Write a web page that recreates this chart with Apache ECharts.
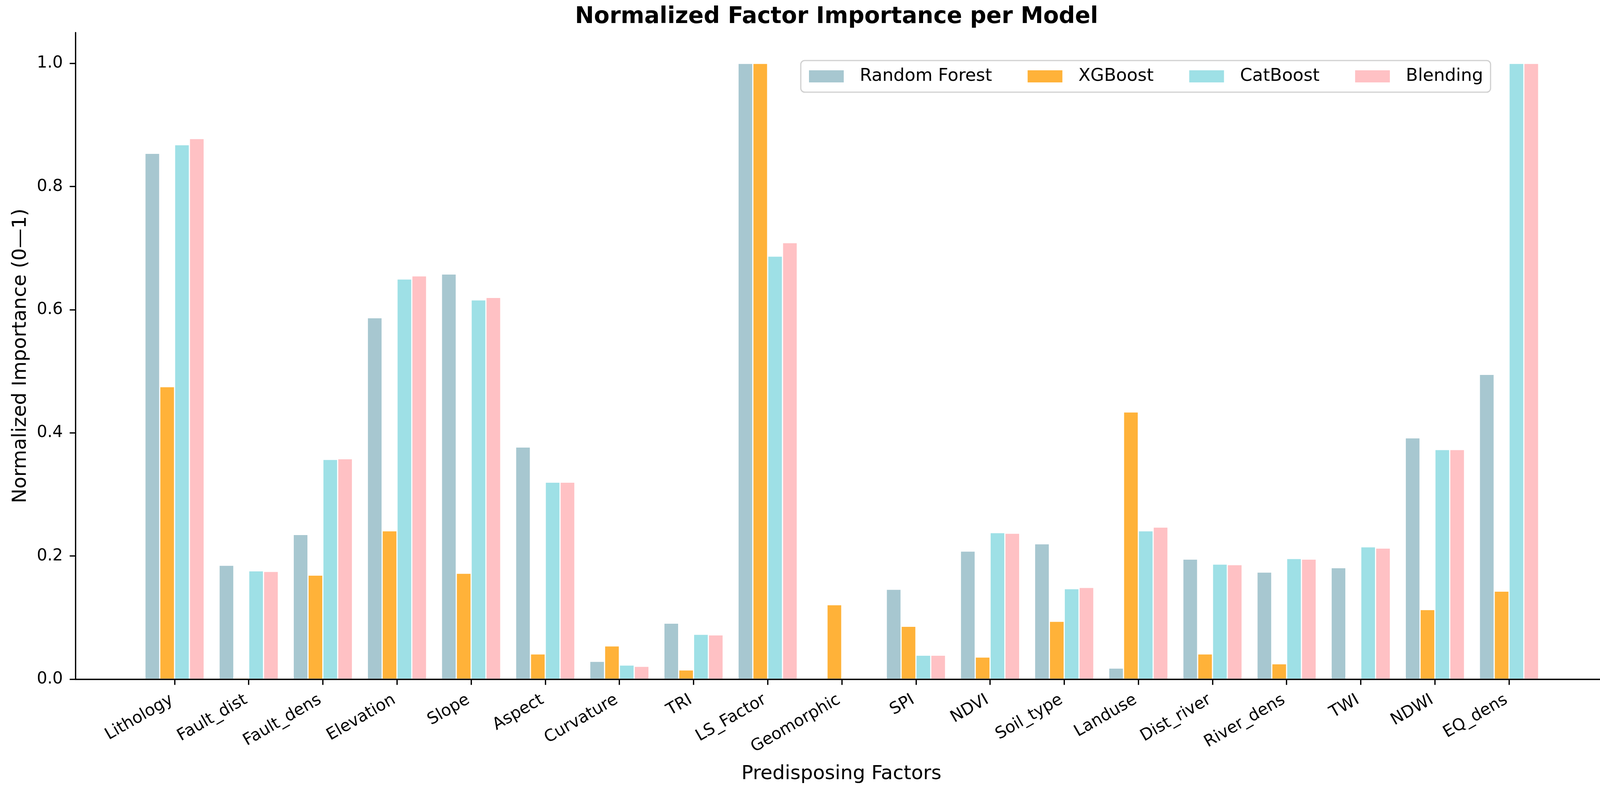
<!DOCTYPE html>
<html>
<head>
<meta charset="utf-8">
<script src="https://cdn.jsdelivr.net/npm/echarts@6/dist/echarts.min.js"></script>
<style>html,body{margin:0;padding:0;background:#fff;}#chart{width:4150px;height:2033px;}</style>
</head>
<body>
<div id="chart"></div>
<script>
const categories = ['Lithology','Fault_dist','Fault_dens','Elevation','Slope','Aspect','Curvature','TRI','LS_Factor','Geomorphic','SPI','NDVI','Soil_type','Landuse','Dist_river','River_dens','TWI','NDWI','EQ_dens'];
const seriesNames = ['Random Forest','XGBoost','CatBoost','Blending'];
const rf    = [0.854,0.185,0.235,0.587,0.658,0.377,0.029,0.091,1.000,0.000,0.146,0.208,0.220,0.018,0.195,0.174,0.181,0.392,0.495];
const xgb   = [0.475,0.002,0.169,0.241,0.172,0.041,0.054,0.015,1.000,0.121,0.086,0.036,0.094,0.434,0.041,0.025,0.000,0.113,0.143];
const cat   = [0.868,0.176,0.357,0.650,0.616,0.320,0.023,0.073,0.687,0.000,0.039,0.238,0.147,0.241,0.187,0.196,0.215,0.373,1.000];
const blend = [0.878,0.175,0.358,0.655,0.620,0.320,0.021,0.072,0.709,0.000,0.039,0.237,0.149,0.247,0.186,0.195,0.213,0.373,1.000];
const yTicks = [0, 0.2, 0.4, 0.6, 0.8, 1.0];

const colors = ['#A7C7D0', '#FFB239', '#9EE0E6', '#FFC1C4'];
const FONT = 'DejaVu Sans';
const chart = echarts.init(document.getElementById('chart'), null, {renderer: 'canvas'});
const values = [rf, xgb, cat, blend];
const axisLineStyle = {color: '#000', width: 3.3};

const option = {
  animation: false,
  backgroundColor: '#fff',
  textStyle: {fontFamily: FONT},
  title: {
    text: 'Normalized Factor Importance per Model',
    left: 1467, top: 10,
    textStyle: {fontFamily: FONT, fontSize: 58, fontWeight: 'bold', color: '#000'}
  },
  legend: {
    data: seriesNames,
    left: 2050, top: 155,
    orient: 'horizontal',
    icon: 'rect',
    itemWidth: 91, itemHeight: 33, itemGap: 89,
    padding: [18, 19, 18, 19],
    borderColor: '#d0d0d0', borderWidth: 3, borderRadius: 10,
    backgroundColor: 'rgba(255,255,255,0.8)',
    textStyle: {fontFamily: FONT, fontSize: 45, color: '#000', padding: [0, 0, 0, 35], lineHeight: 45}
  },
  grid: [
    {left: 193, right: 35, top: 83.5, bottom: 294},
    {left: 352, width: 3606, top: 83.5, bottom: 294}
  ],
  xAxis: [
    {
      type: 'value', gridIndex: 0, min: -1.34, max: 19.34, z: 10,
      axisLine: {show: true, onZero: false, lineStyle: axisLineStyle},
      axisTick: {show: false}, axisLabel: {show: false}, splitLine: {show: false},
      name: 'Predisposing Factors', nameLocation: 'middle', nameGap: 218,
      nameTextStyle: {fontFamily: FONT, fontSize: 50, color: '#000'}
    },
    {
      type: 'category', gridIndex: 1, data: categories, z: 10,
      axisLine: {show: false, onZero: false},
      axisTick: {show: true, alignWithLabel: true, length: 14.6, lineStyle: axisLineStyle},
      axisLabel: {interval: 0, rotate: 30, fontFamily: FONT, fontSize: 42, color: '#000', margin: 46, padding: [0, 8, 0, 0]},
      splitLine: {show: false}
    }
  ],
  yAxis: [
    {
      type: 'value', gridIndex: 0, min: 0, max: 1.05, z: 10,
      axisLine: {show: true, onZero: false, lineStyle: axisLineStyle},
      axisTick: {show: true, length: 14.6, lineStyle: axisLineStyle, customValues: yTicks},
      axisLabel: {customValues: yTicks, formatter: v => Number(v).toFixed(1), fontFamily: FONT, fontSize: 42, color: '#000', margin: 32},
      splitLine: {show: false},
      name: 'Normalized Importance (0\u20141)', nameLocation: 'middle', nameGap: 115,
      nameTextStyle: {fontFamily: FONT, fontSize: 50, color: '#000'}
    },
    {type: 'value', gridIndex: 1, min: 0, max: 1.05, show: false, splitLine: {show: false}}
  ],
  series: seriesNames.map((name, i) => ({
    name: name, type: 'bar', xAxisIndex: 1, yAxisIndex: 1,
    data: values[i], barWidth: 37.96, barGap: '0%',
    itemStyle: {color: colors[i], borderColor: '#ffffff', borderWidth: 1.5}
  }))
};
chart.setOption(option);
</script>
</body>
</html>
